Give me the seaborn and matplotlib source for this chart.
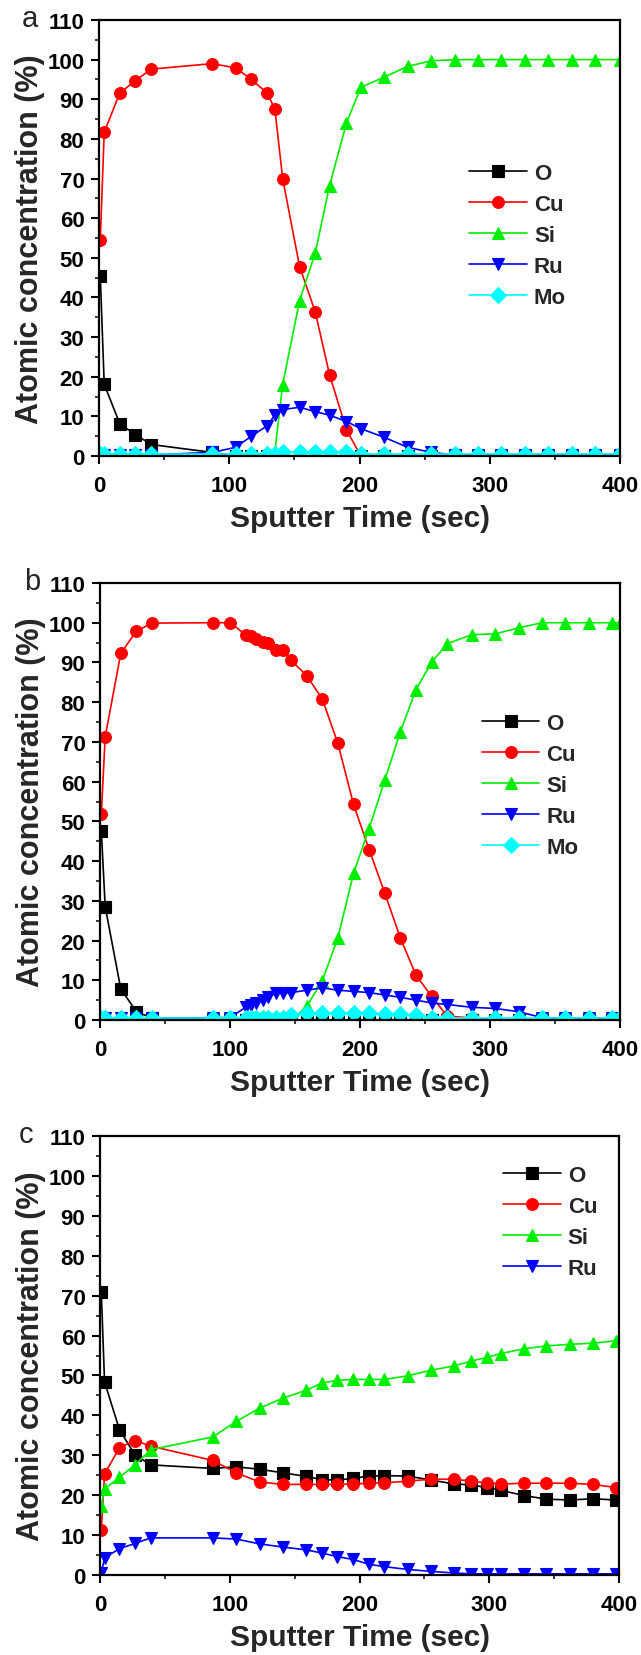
import numpy as np
import pandas as pd
import matplotlib
matplotlib.use("Agg")
import matplotlib.pyplot as plt
from matplotlib.ticker import MultipleLocator
import seaborn as sns

# ---------------- data ----------------
xa = [1, 4, 16, 28, 40, 87, 105, 117, 129, 135, 141, 154, 166, 177, 190,
      201, 219, 237, 255, 273, 291, 309, 327, 345, 363, 381, 400]
O_a = [45.3, 18.1, 8.1, 5.4, 2.9, 0.9] + [0.0] * 21
Cu_a = [54.6, 81.7, 91.6, 94.7, 97.6, 99.0, 97.9, 95.0, 91.6, 87.6, 70.0, 47.8,
        36.4, 20.5, 6.6] + [0.0] * 12
Si_a = [0.0] * 9 + [1.0, 18.0, 39.2, 51.2, 68.2, 84.0, 93.0, 95.6, 98.3, 99.7] + [100.0] * 8
Ru_a = [0.3] * 5 + [0.9, 2.2, 5.0, 7.6, 10.3, 11.7, 12.3, 11.2, 10.3, 8.7, 6.9,
                    4.7, 2.2, 0.9] + [0.3] * 8
Mo_a = [0.5] * 10 + [1.0] * 5 + [0.5] * 12

xb = [1, 4, 16, 28, 40, 87, 100, 112, 116, 120, 125, 129, 135, 141, 147, 159,
      171, 183, 195, 207, 219, 231, 243, 255, 267, 286, 304, 322, 340, 358, 376,
      394, 400]
O_b = [47.7, 28.5, 7.8, 2.1, 0.5] + [0.0] * 28
Cu_b = [51.9, 71.3, 92.3, 97.9, 99.9, 100.0, 100.0, 97.0, 96.6, 95.9, 95.1, 94.8,
        93.2, 93.2, 90.5, 86.7, 80.8, 69.6, 54.3, 42.9, 32.0, 20.7, 11.3, 6.0,
        1.0, 0.5] + [0.0] * 7
Si_b = [0.0] * 15 + [3.4, 9.9, 20.7, 36.9, 48.2, 60.3, 72.5, 83.1, 90.0, 94.7,
                     97.0, 97.2, 98.7, 100.0, 100.0, 100.0, 100.0, 100.0]
Ru_b = [0.4] * 5 + [0.6, 0.6, 3.2, 3.9, 4.3, 5.0, 5.7, 6.8, 6.8, 6.9, 7.5, 8.1,
                    7.5, 7.2, 6.9, 6.3, 5.7, 5.0, 4.3, 3.9, 3.2, 2.9, 2.1, 0.6,
                    0.4, 0.4, 0.4, 0.4]
Mo_b = [0.5] * 14 + [1.2, 1.7, 1.7, 1.7, 1.7, 1.7, 1.5, 1.5, 1.2] + [0.5] * 10

xc = [1, 3.5, 15, 27, 39, 87, 105, 123, 141, 159, 171, 183, 195, 207, 219, 237,
      255, 273, 286, 298, 309, 327, 344, 362, 380, 398]
O_c = [70.9, 48.4, 36.4, 30.1, 27.6, 26.7, 27.1, 26.5, 25.6, 24.7, 23.9, 23.8,
       24.2, 24.8, 24.9, 24.8, 23.8, 22.8, 22.6, 21.9, 21.2, 19.9, 19.0, 18.8,
       19.1, 18.8]
Cu_c = [11.4, 25.3, 31.9, 33.7, 32.3, 28.7, 25.6, 23.3, 22.7, 22.7, 22.7, 22.7,
        22.8, 23.0, 23.1, 23.5, 24.0, 24.0, 23.5, 23.1, 22.8, 23.0, 23.0, 23.0,
        22.7, 21.9]
Si_c = [17.4, 21.5, 24.5, 27.6, 31.4, 34.6, 38.5, 41.8, 44.3, 46.3, 48.1, 48.8,
        49.0, 49.0, 49.0, 49.9, 51.3, 52.4, 53.6, 54.5, 55.5, 56.7, 57.4, 57.8,
        58.1, 58.7]
Ru_c = [0.5, 4.3, 6.6, 7.9, 9.3, 9.3, 9.0, 7.8, 7.0, 6.3, 5.5, 4.6, 3.9, 2.7,
        2.1, 1.4, 0.9, 0.5, 0.3, 0.3, 0.3, 0.3, 0.3, 0.3, 0.3, 0.3]

panel_letters = ["a", "b", "c"]
x_ticks = [0, 100, 200, 300, 400]
y_ticks = list(range(0, 111, 10))
x_label = "Sputter Time (sec)"
y_label = "Atomic concentration (%)"

# ---------------- style ----------------
sns.set_theme(style="white")
plt.rcParams["font.family"] = ["Liberation Sans", "DejaVu Sans"]
plt.rcParams["font.weight"] = "bold"
plt.rcParams["axes.labelweight"] = "bold"

styles = {
    "O": dict(color="#000000", marker="s", ms=8),
    "Cu": dict(color="#ff0000", marker="o", ms=8.5),
    "Si": dict(color="#00ee00", marker="^", ms=8.5),
    "Ru": dict(color="#0000ff", marker="v", ms=8.5),
    "Mo": dict(color="#00ffff", marker="D", ms=8.5),
}

panels = [
    (xa, {"O": O_a, "Cu": Cu_a, "Si": Si_a, "Ru": Ru_a, "Mo": Mo_a}),
    (xb, {"O": O_b, "Cu": Cu_b, "Si": Si_b, "Ru": Ru_b, "Mo": Mo_b}),
    (xc, {"O": O_c, "Cu": Cu_c, "Si": Si_c, "Ru": Ru_c}),
]

W, H = 641, 1656
fig = plt.figure(figsize=(W / 100, H / 100), dpi=100)

# axes boxes in pixels: (left, top, right, bottom)
boxes = [(99, 21, 620, 457), (100, 584, 620, 1021), (100, 1137, 619, 1576)]
legend_anchor = [(0.711, 0.672), (0.734, 0.703), (0.777, 0.935)]
letter_pos = [(30, 19), (32, 582), (26, 1135)]

for i, ((x, series), box) in enumerate(zip(panels, boxes)):
    l, t, r, b = box
    ax = fig.add_axes([l / W, 1 - b / H, (r - l) / W, (b - t) / H])
    df = pd.DataFrame({"time": x, **series})
    for name in series:
        st = styles[name]
        sns.lineplot(data=df, x="time", y=name, ax=ax, color=st["color"],
                     marker=st["marker"], markersize=st["ms"],
                     markeredgecolor=st["color"], markeredgewidth=0.8,
                     linewidth=1.2, label=name, sort=False, estimator=None,
                     errorbar=None)
    ax.set_xlim(0, 400)
    ax.set_ylim(0, 110)
    ax.set_xticks(x_ticks)
    ax.set_yticks(y_ticks)
    ax.xaxis.set_minor_locator(MultipleLocator(50))
    ax.yaxis.set_minor_locator(MultipleLocator(5))
    ax.tick_params(axis="both", which="major", direction="out", length=6,
                   width=1.5, labelsize=16, colors="black",
                   bottom=True, left=True, top=False, right=False)
    ax.tick_params(axis="x", which="major", pad=7.5)
    ax.tick_params(axis="y", which="major", pad=4.5)
    ax.tick_params(axis="both", which="minor", direction="out", length=3.2,
                   width=1.3, bottom=True, left=True, top=False, right=False)
    for lab in ax.get_xticklabels() + ax.get_yticklabels():
        lab.set_fontweight("bold")
    for sp in ax.spines.values():
        sp.set_linewidth(1.6)
        sp.set_color("black")
    ax.set_xlabel(x_label, fontsize=21.5, fontweight="bold", labelpad=6)
    ax.set_ylabel(y_label, fontsize=22, fontweight="bold", labelpad=1.5)
    ax.grid(False)
    leg = ax.legend(loc="upper left", bbox_to_anchor=legend_anchor[i],
                    frameon=False, fontsize=16, handlelength=2.6,
                    handletextpad=0.3, labelspacing=0.45, borderpad=0,
                    borderaxespad=0, numpoints=1)
    for txt in leg.get_texts():
        txt.set_fontweight("bold")
    lx, ly = letter_pos[i]
    fig.text(lx / W, 1 - ly / H, panel_letters[i], fontsize=21,
             fontweight="normal", ha="center", va="center")

fig.savefig("out.png", dpi=100)
